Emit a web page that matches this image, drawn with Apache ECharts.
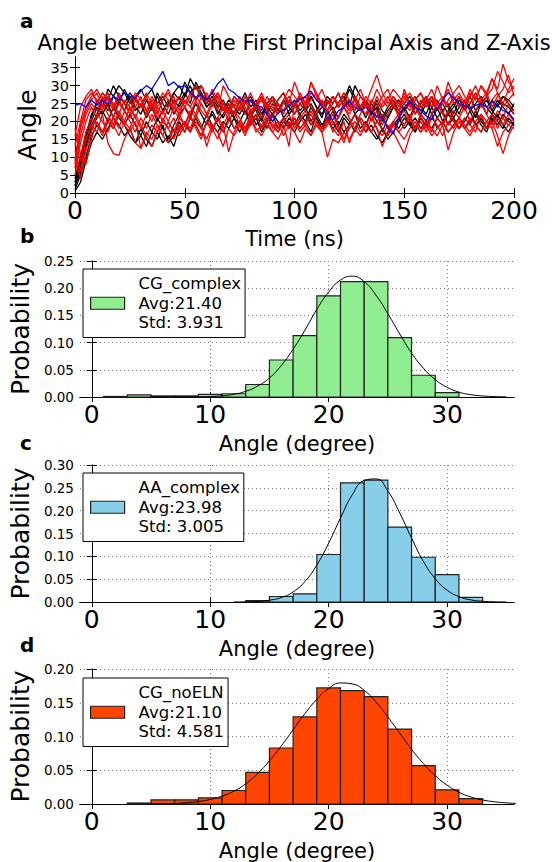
<!DOCTYPE html>
<html>
<head>
<meta charset="utf-8">
<script src="https://cdn.jsdelivr.net/npm/echarts@6/dist/echarts.min.js"></script>
<style>
html,body{margin:0;padding:0;background:#fff;}
#chart{width:552px;height:862px;}
</style>
</head>
<body>
<div id="chart"></div>
<script>
// panel a: time (ns) and angle traces
var time = [0,2.5,5,7.5,10,12.5,15,17.5,20,22.5,25,27.5,30,32.5,35,37.5,40,42.5,45,47.5,50,52.5,55,57.5,60,62.5,65,67.5,70,72.5,75,77.5,80,82.5,85,87.5,90,92.5,95,97.5,100,102.5,105,107.5,110,112.5,115,117.5,120,122.5,125,127.5,130,132.5,135,137.5,140,142.5,145,147.5,150,152.5,155,157.5,160,162.5,165,167.5,170,172.5,175,177.5,180,182.5,185,187.5,190,192.5,195,197.5,200];

var black1 = [2,8,15,21,26,24,29,27,30,28, 25,27,29,26,24,27,23,25,28,26, 31,28,30,27,24,26,22,25,23,21, 24,22,26,23,20,24,22,25,21,23, 25,22,24,20,23,26,22,24,21,25, 29,26,23,25,22,24,20,23,25,22, 24,21,25,23,26,22,24,20,23,25, 22,26,24,21,25,27,23,26,24,22, 25];
var black2 = [1,5,10,16,19,17,20,18,22,19, 16,14,18,15,13,17,14,16,13,18, 20,17,21,18,22,19,17,20,18,21, 19,17,20,22,18,21,19,17,20,18, 21,18,20,17,22,19,21,18,20,17, 19,22,18,20,17,15,18,16,19,21, 18,20,17,21,19,22,18,20,17,19, 21,18,20,22,19,17,21,19,22,20, 19];
var black3 = [4,10,17,20,24,22,25,21,26,23, 27,24,22,26,23,28,25,22,26,24, 27,30,26,28,25,27,24,26,23,27, 25,28,24,26,22,25,27,23,26,24, 22,25,23,27,24,21,26,23,25,27, 24,30,27,25,22,26,23,21,24,26, 23,26,22,25,27,24,26,23,25,22, 26,24,27,23,25,22,26,24,27,25, 23];
var black4 = [3,7,13,18,21,23,20,24,21,19, 22,19,16,20,17,21,18,15,19,22, 24,21,25,22,19,23,20,22,25,21, 17,20,23,19,21,18,22,20,18,21, 19,22,20,24,21,18,20,23,19,22, 20,17,21,19,23,20,18,15,17,20, 22,19,21,18,20,24,21,19,22,20, 18,21,19,23,20,18,22,20,18,21, 19];
var black5 = [2,6,14,19,22,26,23,27,25,29, 26,23,25,21,24,20,23,26,22,25, 28,25,31,28,24,26,23,21,24,22, 26,23,21,24,27,22,25,23,26,22, 24,27,23,25,22,24,27,25,28,24, 26,22,24,21,25,23,17,21,24,26, 23,25,27,24,22,26,23,25,22,24, 27,23,25,28,24,26,23,21,25,24, 22];
var black6 = [0.5,3,9,14,17,15,18,21,19,16, 18,14,16,13,17,15,19,14,16,20, 17,21,19,16,20,22,19,17,21,18, 20,23,19,21,17,20,22,18,21,19, 17,20,22,19,21,18,23,20,17,21, 19,22,20,17,19,16,14,17,20,18, 21,19,17,22,20,18,21,23,19,21, 18,20,23,19,21,18,20,22,19,17, 20];
var black7 = [3,9,16,22,25,28,26,30,27,25, 28,26,24,27,29,25,27,24,28,30, 27,32,29,30,26,28,25,23,26,24, 22,25,27,24,21,25,23,26,28,24, 26,23,25,27,24,22,25,27,24,26, 30,27,24,26,23,25,21,24,26,23, 25,27,24,22,25,27,23,26,24,21, 24,26,23,25,27,24,22,25,27,26, 24];

var red1 = [12,6,15,19,17,22,14,11,10.5,15, 18,14,12.5,17,15,19,16,14,18,16, 19,17,20,18,15,19,17,13,18,16, 19,17,21,18,16,19,17,15,18,20, 17,14,18,16,19,17,10,15,14,17, 15,18,16,19,17,20,18,16,19,17, 15,18,20,17,19,16,18,20,17,19, 21,18,16,19,17,20,18,13,17,19, 18];
var red2 = [16,24,27,29,25,28,26,23,27,25, 22,26,24,27,23,25,28,26,24,27, 25,28,26,30,27,24,28,25,22,26, 24,27,23,25,28,24,26,22,25,27, 24,28,25,31,27,24,26,23,25,28, 26,23,27,25,29,33,28,25,27,24, 28,25,27,24,26,29,25,27,24,26, 28,25,29,26,30,28,32,29,36,31, 29];
var red3 = [5,14,20,24,21,25,22,19,23,20, 24,21,18,22,25,21,23,20,24,22, 19,23,21,25,22,18,21,24,20,23, 21,18,22,25,21,23,20,18,19,13, 25,21,23,19,22,26,22,19,21,24, 21,18,22,25,20,23,19,22,25,21, 23,20,24,21,18,22,25,22,19,23, 21,24,20,23,26,22,19,23,21,25, 22];
var red4 = [9,18,23,26,28,24,27,25,22,26, 24,21,25,22,26,23,20,24,27,23, 26,24,22,27,25,29,26,23,25,22, 26,24,21,25,23,27,24,22,26,29, 27,25,23,31,28,24,26,23,21,25, 23,27,24,22,26,24,27,29,25,23, 26,28,25,23,27,24,30,26,24,27, 25,23,27,30,26,28,24,27,29,33, 27];
var red5 = [14,9,17,21,19,16,20,18,22,19, 17,20,12.5,16,19,17,21,18,15,19, 17,21,19,16,20,18,15,19,22,18, 20,17,19,22,18,20,17,19,21,18, 20,17,19,16,20,18,21,17,19,15, 18,20,17,19,22,18,16,19,17,14, 11,16,19,17,20,18,16,19,12,17, 20,18,21,19,17,20,22,18,21,19, 21];
var red6 = [7,16,22,25,23,27,24,21,25,23, 21,24,27,23,20,24,22,26,23,21, 24,22,26,23,21,25,27,24,22,25, 23,26,22,24,27,23,21,25,23,26, 22,25,27,24,22,26,23,25,28,24, 22,25,23,26,24,21,25,27,24,22, 29,25,22,26,24,27,23,25,31,27, 24,26,23,27,25,22,26,28,24,26, 28];
var red7 = [10,4,12,17,22,20,17,21,18,23, 20,17,21,18,22,19,16,20,17,21, 19,22,18,15,20,17,21,19,11.5,17, 20,18,21,17,19,22,18,20,16,19, 21,18,20,22,19,17,20,18,16,20, 14,18,21,19,17,20,22,18,20,17, 19,22,18,20,17,21,19,16,20,18, 21,19,17,20,22,18,20,16,11,16, 19];
var red8 = [13,20,26,28,26,23,27,24,28,25, 23,27,24,28,25,22,26,29,25,27, 24,27,30,26,28,25,23,30,27,24, 27,25,28,24,26,23,27,25,22,26, 24,27,25,28,26,29,25,27,24,26, 23,26,24,27,25,29,26,24,27,25, 27,24,26,28,25,27,23,26,29,25, 27,24,28,26,30,27,29,34,31,28, 30];
var red9 = [18,11,8,15,20,17,21,19,16,20, 18,22,19,16,13,17,20,18,21,17, 20,18,22,19,13,18,21,17,20,23, 19,16,20,22,18,21,19,17,20,22, 18,21,19,23,20,17,19,22,18,14, 19,22,20,17,21,18,13,17,20,22, 19,21,18,22,20,17,21,19,23,20, 18,21,19,17,22,20,18,21,19,22, 20];
var red10 = [8,19,24,27,29,26,28,24,26,23, 25,28,26,23,27,24,26,28,25,22, 26,24,27,25,22,26,28,25,23,27, 25,22,26,24,27,25,23,26,28,25, 31,27,24,26,28,25,23,27,25,28, 24,26,29,25,23,27,24,26,29,27, 25,23,26,28,24,27,25,22,26,28, 30,27,25,28,24,27,32,28,25,29, 32];

var blue1 = [24.5,25,24,26,24.5,26,25,27,26,28, 27,26.5,28.5,30,29,31.5,34,30,31,29.5, 30,28,26.5,27.5,26,28,30.5,32,29,28, 26.5,25.5,26,24.5,24,22,20,22.5,23,24.5, 25.5,26,27,28.5,26,24.5,21,20.5,23,24, 25.5,24,23,24,22.5,21.5,21,18,16.5,21, 24,25.5,24,23,21.5,20.5,23.5,26,28,26.5, 25,24.5,23.5,24.5,25,24,25.5,24.5,23,22.5, 20.5];

var blackLines = [black1, black2, black3, black4, black5, black6, black7];
var redLines = [red1, red2, red3, red4, red5, red6, red7, red8, red9, red10];

// panels b-d: histogram bins (left edge, width 2) and probabilities
var binWidth = 2;
var binsCG = [1,3,5,7,9,11,13,15,17,19,21,23,25,27,29];
var probCG = [0.001,0.004,0.002,0.002,0.005,0.006,0.023,0.068,0.113,0.186,0.212,0.212,0.109,0.040,0.008];
var binsAA = [13,15,17,19,21,23,25,27,29,31];
var probAA = [0.003,0.012,0.018,0.104,0.261,0.267,0.164,0.098,0.060,0.010];
var binsNo = [3,5,7,9,11,13,15,17,19,21,23,25,27,29,31];
var probNo = [0.0015,0.006,0.006,0.009,0.020,0.047,0.083,0.129,0.172,0.168,0.159,0.111,0.057,0.021,0.008];

// fitted curves
var fitXCG = [5,6,7,8,9,10,11,12,13,14,15,16,17,18,19,20,21,22,23,24,25,26,27,28,29,30,31,32,33,34,35];
var fitCG = [0,0,0,0.0001,0.0003,0.0009,0.0023,0.005,0.0105,0.020,0.035,0.058,0.088,0.123,0.161,0.193,0.215,0.222,0.212,0.187,0.153,0.116,0.081,0.053,0.032,0.018,0.009,0.0043,0.0019,0.0008,0.0003];
var fitXAA = [12,13,14,15,16,17,18,19,20,21,22,23,24,25,26,27,28,29,30,31,32,33,34,35];
var fitAA = [0.0001,0.0004,0.0014,0.0039,0.0098,0.022,0.045,0.081,0.129,0.184,0.235,0.266,0.2695,0.243,0.195,0.140,0.089,0.051,0.026,0.0117,0.0047,0.0017,0.0005,0.0001];
var fitXNo = [5,6,7,8,9,10,11,12,13,14,15,16,17,18,19,20,21,22,23,24,25,26,27,28,29,30,31,32,33,34,35,36];
var fitNo = [0.0002,0.0004,0.0009,0.0019,0.0037,0.0067,0.0117,0.019,0.030,0.045,0.064,0.086,0.110,0.134,0.155,0.171,0.1793,0.1779,0.1683,0.151,0.129,0.105,0.081,0.060,0.042,0.028,0.0175,0.0105,0.006,0.0033,0.0017,0.0008];

var histNames = ['CG_complex', 'AA_complex', 'CG_noELN'];
var histAvg = ['21.40', '23.98', '21.10'];
var histStd = ['3.931', '3.005', '4.581'];
var histColors = ['#90ee90', '#87ceeb', '#ff4500'];
var histYMax = [0.25, 0.30, 0.20];

var angleTicks = [0,5,10,15,20,25,30,35];
var degTicks = [0,10,20,30];

var FONT = 'DejaVu Sans';
var chart = echarts.init(document.getElementById('chart'), null, {renderer: 'svg'});

var grids = [
  {left: 75, right: 38, top: 57, height: 136},
  {left: 75, right: 38, top: 261, height: 136},
  {left: 75, right: 38, top: 465, height: 137},
  {left: 75, right: 38, top: 669, height: 137}
];

var xAxes = [], yAxes = [];
var axLine = {show: true, lineStyle: {color: '#000', width: 1}};
var dotted = {show: true, lineStyle: {color: '#777', width: 1, type: [1, 3]}};
var tickIn = {inside: true, length: 5, lineStyle: {color: '#000'}};

// panel a axes
xAxes.push({gridIndex: 0, type: 'value', min: 0, max: 200, interval: 50,
  axisLine: axLine, axisTick: tickIn,
  axisLabel: {fontSize: 25, color: '#000', fontFamily: FONT, margin: 5},
  splitLine: {show: false},
  name: 'Time (ns)', nameLocation: 'middle', nameGap: 35,
  nameTextStyle: {fontSize: 21, color: '#000', fontFamily: FONT}});
xAxes.push({gridIndex: 0, type: 'value', position: 'top', min: 0, max: 200, interval: 50,
  axisLine: axLine, axisTick: tickIn,
  axisLabel: {show: false}, splitLine: {show: false}});
yAxes.push({gridIndex: 0, type: 'value', min: 0, max: 38,
  axisLine: axLine,
  axisTick: {inside: true, length: 5, customValues: angleTicks, lineStyle: {color: '#000'}},
  axisLabel: {fontSize: 14.5, color: '#000', fontFamily: FONT, margin: 6, customValues: angleTicks},
  splitLine: {show: false},
  name: 'Angle', nameLocation: 'middle', nameGap: 35,
  nameTextStyle: {fontSize: 25, color: '#000', fontFamily: FONT}});
yAxes.push({gridIndex: 0, type: 'value', position: 'right', min: 0, max: 38,
  axisLine: axLine,
  axisTick: {inside: true, length: 5, customValues: angleTicks, lineStyle: {color: '#000'}},
  axisLabel: {show: false}, splitLine: {show: false}});

// histogram axes
for (var g = 1; g <= 3; g++) {
  xAxes.push({gridIndex: g, type: 'value', min: -1, max: 35.65,
    axisLine: axLine,
    axisTick: {inside: true, length: 5, customValues: degTicks, lineStyle: {color: '#000'}},
    axisLabel: {fontSize: 25, color: '#000', fontFamily: FONT, margin: 5, customValues: degTicks},
    splitLine: dotted,
    name: 'Angle (degree)', nameLocation: 'middle', nameGap: 36,
    nameTextStyle: {fontSize: 21, color: '#000', fontFamily: FONT}});
  xAxes.push({gridIndex: g, type: 'value', position: 'top', min: -1, max: 35.65,
    axisLine: axLine,
    axisTick: {inside: true, length: 5, customValues: degTicks, lineStyle: {color: '#000'}},
    axisLabel: {show: false}, splitLine: {show: false}});
  yAxes.push({gridIndex: g, type: 'value', min: 0, max: histYMax[g - 1], interval: 0.05,
    axisLine: axLine, axisTick: tickIn,
    axisLabel: {fontSize: 13.5, color: '#000', fontFamily: FONT, margin: 6,
      formatter: function (v) { return v.toFixed(2); }},
    splitLine: dotted,
    name: 'Probability', nameLocation: 'middle', nameGap: 40,
    nameTextStyle: {fontSize: 25, color: '#000', fontFamily: FONT}});
  yAxes.push({gridIndex: g, type: 'value', position: 'right', min: 0, max: histYMax[g - 1], interval: 0.05,
    axisLine: axLine, axisTick: tickIn,
    axisLabel: {show: false}, splitLine: {show: false}});
}

function traceSeries(vals, color) {
  return {type: 'line', xAxisIndex: 0, yAxisIndex: 0, showSymbol: false, symbol: 'none',
    silent: true, lineStyle: {color: color, width: 1.3},
    data: vals.map(function (v, i) { return [time[i], v]; })};
}

var series = [];
blackLines.forEach(function (l) { series.push(traceSeries(l, '#000000')); });
redLines.forEach(function (l) { series.push(traceSeries(l, '#ff0000')); });
series.push(traceSeries(blue1, '#0000ff'));

var histBins = [binsCG, binsAA, binsNo];
var histProb = [probCG, probAA, probNo];
var fitX = [fitXCG, fitXAA, fitXNo];
var fitY = [fitCG, fitAA, fitNo];

function barRender(color) {
  return function (params, api) {
    var x0 = api.value(0), y = api.value(1);
    var p0 = api.coord([x0, y]);
    var p1 = api.coord([x0 + binWidth, 0]);
    return {type: 'rect',
      shape: {x: p0[0], y: p0[1], width: p1[0] - p0[0], height: p1[1] - p0[1]},
      style: {fill: color, stroke: '#222', lineWidth: 1.2}};
  };
}

for (var h = 0; h < 3; h++) {
  series.push({type: 'custom', name: histNames[h], xAxisIndex: 2 + 2 * h, yAxisIndex: 2 + 2 * h,
    silent: true, itemStyle: {color: histColors[h]},
    renderItem: barRender(histColors[h]),
    data: histBins[h].map(function (b, i) { return [b, this[i]]; }, histProb[h])});
  series.push({type: 'line', xAxisIndex: 2 + 2 * h, yAxisIndex: 2 + 2 * h, smooth: true,
    showSymbol: false, symbol: 'none', silent: true, z: 5,
    lineStyle: {color: '#000', width: 1},
    data: fitX[h].map(function (x, i) { return [x, this[i]]; }, fitY[h])});
}

var legendTops = [269, 473, 678];
var legends = [];
for (var k = 0; k < 3; k++) {
  legends.push({
    left: 83, top: legendTops[k], orient: 'vertical', selectedMode: false,
    icon: 'rect', itemWidth: 34, itemHeight: 12,
    padding: [5, 4, 5, 7], borderColor: '#000', borderWidth: 1, backgroundColor: '#fff',
    data: [{name: histNames[k], itemStyle: {color: histColors[k], borderColor: '#222', borderWidth: 1.2}}],
    formatter: (function (kk) {
      return function (name) { return name + '\nAvg:' + histAvg[kk] + '\nStd: ' + histStd[kk]; };
    })(k),
    textStyle: {fontSize: 16.5, lineHeight: 19.5, color: '#000', fontFamily: FONT, padding: [0, 0, 0, 9]}
  });
}

var panelLabel = {fontSize: 20, fontWeight: 'bold', color: '#000', fontFamily: FONT};
chart.setOption({
  animation: false,
  backgroundColor: '#fff',
  title: [
    {text: 'Angle between the First Principal Axis and Z-Axis', left: 294, top: 32, textAlign: 'center', padding: 0,
      textStyle: {fontSize: 21, fontWeight: 'normal', color: '#000', fontFamily: FONT}},
    {text: 'a', left: 20, top: 11, padding: 0, textStyle: panelLabel},
    {text: 'b', left: 20, top: 226, padding: 0, textStyle: panelLabel},
    {text: 'c', left: 20, top: 433, padding: 0, textStyle: panelLabel},
    {text: 'd', left: 20, top: 635, padding: 0, textStyle: panelLabel}
  ],
  grid: grids,
  xAxis: xAxes,
  yAxis: yAxes,
  legend: legends,
  series: series
});
</script>
</body>
</html>
